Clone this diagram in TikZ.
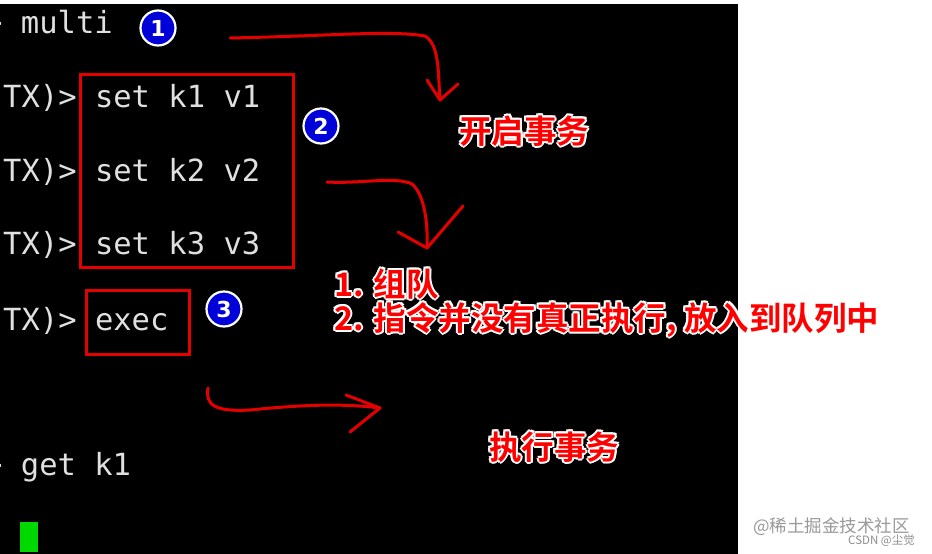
\documentclass[tikz,border=0pt]{standalone}
\usepackage{fontspec}
\setmonofont{DejaVu Sans Mono}
\newfontfamily\cjk{Noto Sans CJK SC Bold}
\newfontfamily\cjkr{Noto Sans CJK SC}
\setsansfont{DejaVu Sans}
\begin{document}
\begin{tikzpicture}[x=1pt,y=-1pt,
  term/.style={anchor=base west,inner sep=0,text=white!88!black,font=\ttfamily\fontsize{30.5}{30.5}\selectfont},
  redbox/.style={draw=red!90!black,line width=3pt},
  num/.style={circle,draw=white,line width=2.2pt,fill=blue!85!black,text=white,minimum size=35pt,inner sep=0,font=\sffamily\bfseries\fontsize{22}{22}\selectfont},
  arr/.style={draw=red!90!black,line width=3pt,line cap=round,line join=round},
  lab/.style={anchor=base west,inner sep=0,font=\cjk\fontsize{32.5}{32.5}\selectfont}]
\useasboundingbox (0,0) rectangle (932,554);
\fill[white] (0,0) rectangle (932,554);
\fill[black] (0,4) rectangle (738,554);
\begin{scope}
\clip (0,4) rectangle (738,554);
\node[term] (l0) at (-16,33) {> multi};
\node[term] (l1) at (3,107) {TX)> set k1 v1};
\node[term] (l2) at (3,181) {TX)> set k2 v2};
\node[term] (l3) at (3,254) {TX)> set k3 v3};
\node[term] (l4) at (3,330) {TX)> exec};
\node[term] (l5) at (-16,475) {> get k1};
\fill[green!85!black] (20,522) rectangle (38,552);
\end{scope}
\draw[redbox] (80,74) rectangle (293,267);
\draw[redbox] (86,290) rectangle (189,354);
\node[num] (c1) at (158,28) {1};
\node[num] (c2) at (321,126) {2};
\node[num] (c3) at (224,309) {3};
% arrows
\coordinate (a1s) at (230,38);
\coordinate (a1e) at (440,100);
\draw[arr] (a1s) .. controls (330,36) and (390,30) .. (425,36) .. controls (440,45) and (438,75) .. (a1e);
\draw[arr] (427,80) -- (a1e) -- (458,84);
\coordinate (a2s) at (327,182);
\coordinate (a2e) at (427,248);
\draw[arr] (a2s) .. controls (360,184) and (395,176) .. (412,184) .. controls (425,195) and (428,225) .. (a2e);
\draw[arr] (398,232) -- (a2e) -- (463,206);
\coordinate (a3s) at (208,388);
\coordinate (a3e) at (380,408);
\draw[arr] (a3s) .. controls (205,405) and (215,412) .. (250,410) .. controls (300,405) and (340,403) .. (a3e);
\draw[arr] (346,395) -- (a3e) -- (350,432);
% labels with white outline
\newcommand\glowtext[3]{%
 \foreach \dx/\dy in {-2/0,2/0,0/-2,0/2,-1.5/-1.5,1.5/1.5,-1.5/1.5,1.5/-1.5}{
   \node[lab,text=white] at ([shift={(\dx,\dy)}]#1) {#2};}
 \node[lab,text=red] (#3) at (#1) {#2};}
\glowtext{459,143}{开启事务}{t1}
\glowtext{334,296}{1. 组队}{t2}
\glowtext{334,330}{2. 指令并没有真正执行, 放入到队列中}{t3}
\glowtext{489,459}{执行事务}{t4}
\node[anchor=base west,inner sep=0,text=black!40,font=\cjkr\fontsize{17.5}{17.5}\selectfont] (w1) at (753,532) {@稀土掘金技术社区};
\node[anchor=base east,inner sep=0,text=black!45,font=\cjkr\fontsize{11.5}{11.5}\selectfont] (w2) at (915,544) {CSDN @尘觉};
\end{tikzpicture}
\end{document}
